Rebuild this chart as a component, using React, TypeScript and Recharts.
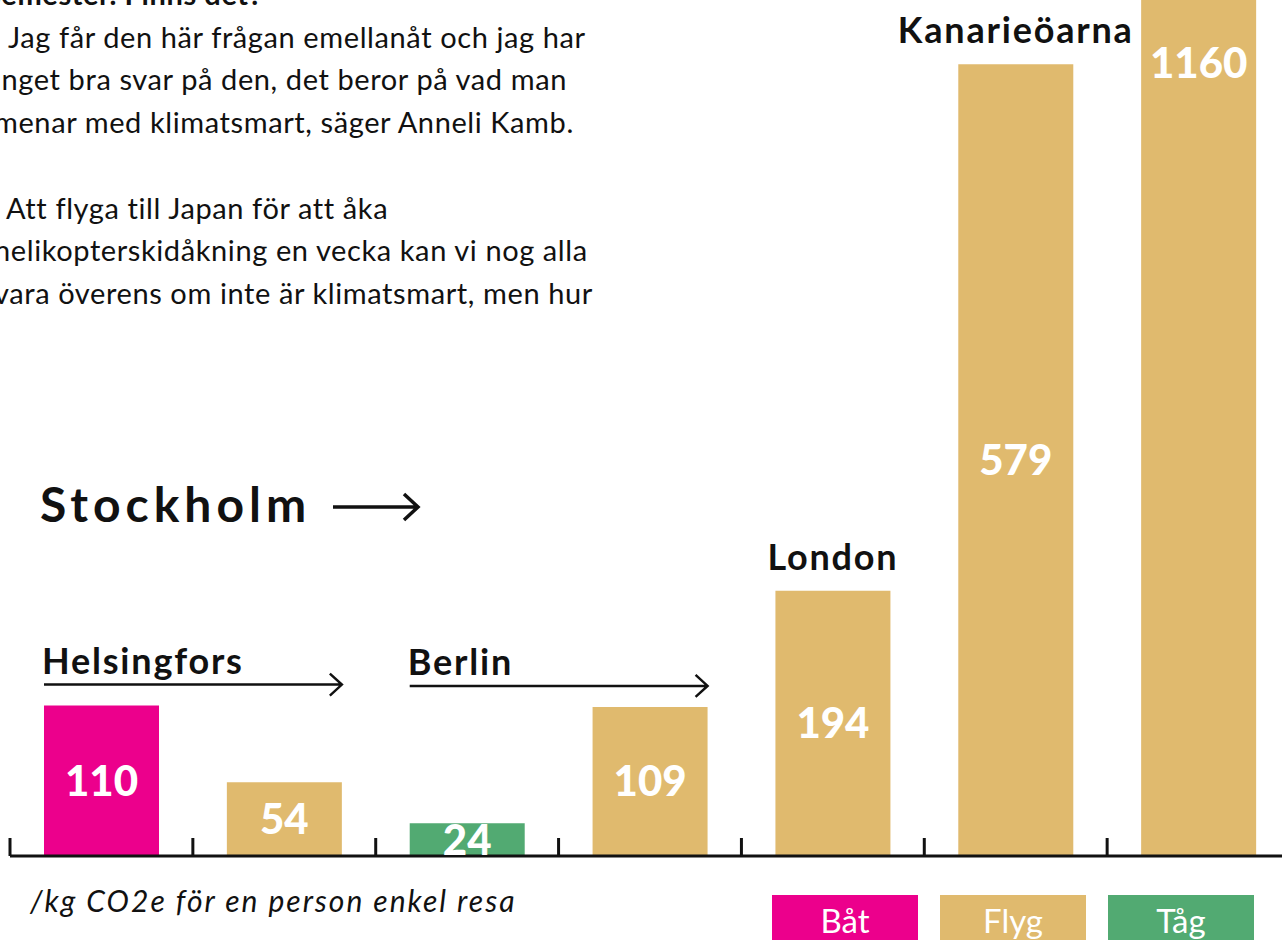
import React from 'react';
import { BarChart, Bar, XAxis, YAxis, Cell, LabelList, Legend } from 'recharts';

const trips = ['Helsingfors båt', 'Helsingfors flyg', 'Berlin tåg', 'Berlin flyg', 'London flyg', 'Kanarieöarna flyg', 'Långresa flyg'];
const emissions = [110, 54, 24, 109, 194, 579, 1160];
const modes = ['Båt', 'Flyg', 'Tåg', 'Flyg', 'Flyg', 'Flyg', 'Flyg'];
const places = ['Helsingfors', '', 'Berlin', '', 'London', 'Kanarieöarna', ''];
const placeSpans = [2, 0, 2, 0, 1, 1, 1];

const modeNames = ['Båt', 'Flyg', 'Tåg'];
const modeColors = ['#EC008C', '#E0BA6E', '#52AA72'];

// article text behind the graphic, one array per paragraph (line breaks as in the picture)
const introLines = ['semester. Finns det?'];
const quoteOne = [
  'Jag får den här frågan emellanåt och jag har',
  'inget bra svar på den, det beror på vad man',
  'menar med klimatsmart, säger Anneli Kamb.',
];
const quoteTwo = [
  'Att flyga till Japan för att åka',
  'helikopterskidåkning en vecka kan vi nog alla',
  'vara överens om inte är klimatsmart, men hur',
];

const data = trips.map((trip, i) => ({
  trip,
  value: emissions[i],
  mode: modes[i],
  place: places[i],
}));

const FONT = 'Lato, "Noto Sans", sans-serif';
const W = 1290;
const H = 940;
const LEFT = 10;
const BAND = (W - LEFT) / trips.length;
const LINE = 42.7;

const colorFor = (mode: string) => modeColors[modeNames.indexOf(mode)];

const BoundaryTick = (props: any) => {
  const { x, y } = props;
  const left = x - BAND / 2;
  return <line x1={left} x2={left} y1={y - 18} y2={y} stroke="#111" strokeWidth={3} />;
};

const PlaceLabel = (props: any) => {
  const vb = props.viewBox || props;
  const { x, y, width, height } = vb;
  const i = props.index;
  const place = places[i];
  if (!place) return null;
  const span = placeSpans[i];
  const perUnit = height / emissions[i];
  const bottom = y + height;
  const top = bottom - Math.max(...emissions.slice(i, i + span)) * perUnit;
  const textStyle = { fontFamily: FONT, fontWeight: 700, fontSize: 36, letterSpacing: 1.8, fill: '#111' };
  if (span > 1) {
    const x2 = x + (span - 1) * BAND + width;
    const ay = top - 21;
    return (
      <g>
        <text x={x - 2} y={top - 32} {...textStyle}>{place}</text>
        <path
          d={`M${x} ${ay} H${x2} M${x2 - 12} ${ay - 11} L${x2} ${ay} L${x2 - 12} ${ay + 11}`}
          stroke="#111"
          strokeWidth={2.5}
          fill="none"
        />
      </g>
    );
  }
  return (
    <text x={x + width / 2} y={top - 21} textAnchor="middle" {...textStyle}>
      {place}
    </text>
  );
};

const LegendBoxes = () => (
  <div style={{ display: 'flex', gap: 22 }}>
    {modeNames.map((name, i) => (
      <div
        key={name}
        style={{
          width: 146,
          height: 50,
          background: modeColors[i],
          color: '#fff',
          fontFamily: FONT,
          fontSize: 33,
          textAlign: 'center',
          lineHeight: '50px',
        }}
      >
        {name}
      </div>
    ))}
  </div>
);

const bodyText = { fontFamily: FONT, fontSize: 29, letterSpacing: 0.6, fill: '#111' };

const Paragraph = ({ lines, top, indent, bold }: { lines: string[]; top: number; indent: number; bold?: boolean }) => (
  <g>
    {lines.map((line, i) => (
      <text key={i} x={i === 0 ? indent : -6} y={top + i * LINE} {...bodyText} fontWeight={bold ? 700 : 400}>
        {line}
      </text>
    ))}
  </g>
);

export default function App() {
  return (
    <div style={{ position: 'absolute', left: 0, top: 0, width: 1282, height: 940, overflow: 'hidden', background: '#fff' }}>
      <BarChart width={W} height={H} data={data} margin={{ top: 0, right: 0, left: LEFT, bottom: 54 }}>
        <XAxis
          dataKey="trip"
          height={30}
          interval={0}
          tickSize={0}
          tickMargin={0}
          tick={<BoundaryTick />}
          axisLine={{ stroke: '#111', strokeWidth: 3 }}
        />
        <YAxis hide domain={[0, 626]} allowDataOverflow />
        <Legend
          layout="vertical"
          align="center"
          verticalAlign="middle"
          content={<LegendBoxes />}
          wrapperStyle={{ left: 772, top: 895, width: 500 }}
        />
        <Bar dataKey="value" barSize={115} isAnimationActive={false}>
          {data.map((d) => (
            <Cell key={d.trip} fill={colorFor(d.mode)} />
          ))}
          <LabelList
            dataKey="value"
            position="center"
            fill="#fff"
            style={{ fontFamily: FONT, fontWeight: 900, fontSize: 42 }}
          />
          <LabelList dataKey="place" content={<PlaceLabel />} />
        </Bar>
      </BarChart>
      <svg width={1282} height={940} style={{ position: 'absolute', left: 0, top: 0, pointerEvents: 'none' }}>
        <Paragraph lines={introLines} top={5} indent={-12} bold />
        <Paragraph lines={quoteOne} top={5 + LINE} indent={8} />
        <Paragraph lines={quoteTwo} top={5 + 5 * LINE} indent={6} />
        <text x={40} y={522} fontFamily={FONT} fontSize={48} fontWeight={700} letterSpacing={5} fill="#111">
          Stockholm
        </text>
        <path d="M333 507 H418 M404 494 L418 507 L404 520" stroke="#111" strokeWidth={3.5} fill="none" />
        <text x={30} y={912} fontFamily={FONT} fontSize={30} fontStyle="italic" letterSpacing={2} fill="#111">
          /kg CO2e för en person enkel resa
        </text>
      </svg>
    </div>
  );
}
